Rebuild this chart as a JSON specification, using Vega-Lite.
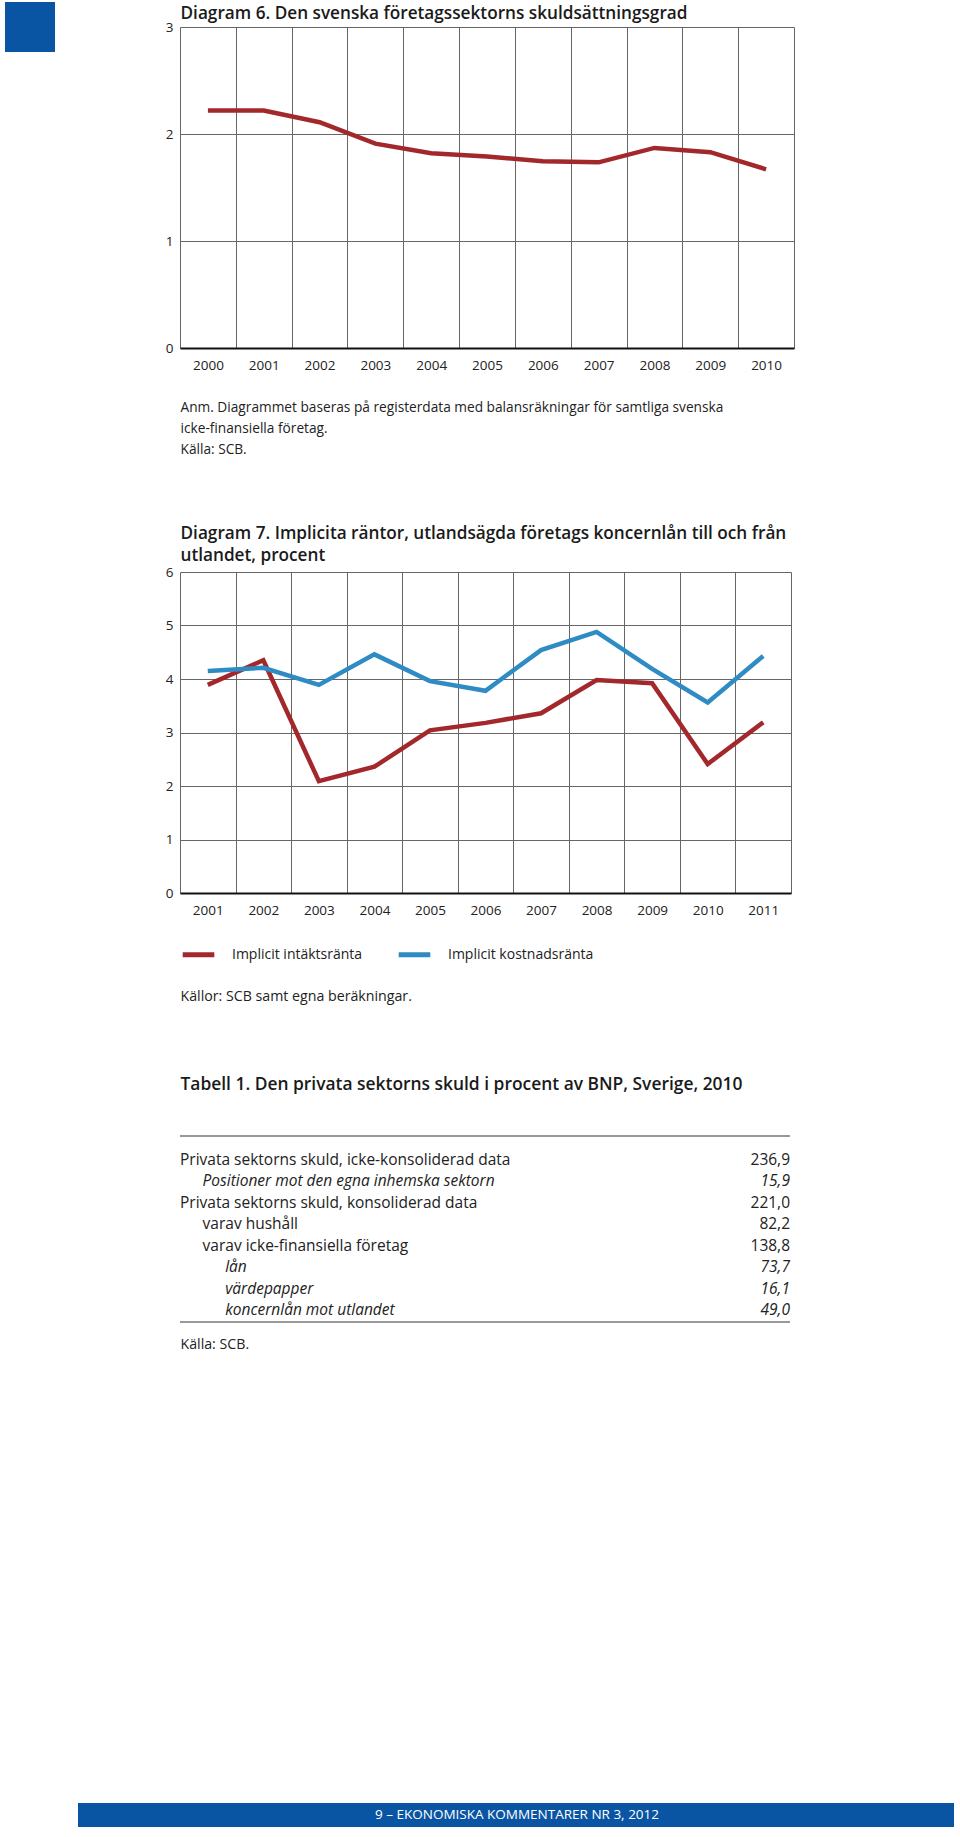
{
  "$schema": "https://vega.github.io/schema/vega-lite/v6.json",
  "padding": {"left": 5, "top": 2, "right": 6, "bottom": 10},
  "background": "white",
  "columns": 4,
  "bounds": "flush",
  "align": "each",
  "spacing": 0,
  "resolve": {"scale": {"color": "independent"}, "legend": {"color": "independent"}},
  "config": {
    "font": "Open Sans",
    "view": {"stroke": null},
    "locale": {"number": {"decimal": ",", "thousands": " ", "grouping": [3], "currency": ["", " kr"]}}
  },
  "concat": [
    {"width": 50, "height": 25, "view": {"fill": "#0a55a3", "stroke": null}, "data": {"values": []}, "mark": "text"},
    {"width": 1, "height": 1, "data": {"values": []}, "mark": "text"},
    {"width": 1, "height": 24, "data": {"values": [{"text": "Diagram 6. Den svenska företagssektorns skuldsättningsgrad"}]},
     "mark": {"type": "text", "align": "left", "baseline": "middle", "fontSize": 17.2, "fontWeight": 600, "color": "#1a1a1a"},
     "encoding": {"text": {"field": "text"}}},
    {"width": 1, "height": 1, "data": {"values": []}, "mark": "text"},

    {"width": 50, "height": 25, "view": {"fill": "#0a55a3", "stroke": null}, "data": {"values": []}, "mark": "text"},
    {"width": 1, "height": 1, "data": {"values": []}, "mark": "text"},
    {"width": 614, "height": 321,
     "data": {"values": [
       {"ar": "2000", "grad": 2.22}, {"ar": "2001", "grad": 2.22}, {"ar": "2002", "grad": 2.11},
       {"ar": "2003", "grad": 1.91}, {"ar": "2004", "grad": 1.82}, {"ar": "2005", "grad": 1.79},
       {"ar": "2006", "grad": 1.745}, {"ar": "2007", "grad": 1.735}, {"ar": "2008", "grad": 1.87},
       {"ar": "2009", "grad": 1.83}, {"ar": "2010", "grad": 1.67}
     ]},
     "mark": {"type": "line", "color": "#a3282c", "strokeWidth": 4.5},
     "encoding": {
       "x": {"field": "ar", "type": "ordinal", "bandPosition": 0.5,
             "scale": {"type": "band", "paddingInner": 0, "paddingOuter": 0},
             "axis": {"title": null, "tickBand": "extent", "grid": true, "gridColor": "#666", "gridWidth": 1,
                      "ticks": false, "domain": true, "domainColor": "#111", "domainWidth": 2,
                      "labelAngle": 0, "labelFontSize": 13.5, "labelColor": "#222", "labelPadding": 10}},
       "y": {"field": "grad", "type": "quantitative",
             "scale": {"domain": [0, 3], "nice": false},
             "axis": {"title": null, "values": [0, 1, 2, 3], "format": "d", "grid": true, "gridColor": "#666", "gridWidth": 1,
                      "domain": false, "ticks": false, "labelFontSize": 13.5, "labelColor": "#222", "labelPadding": 7}}
     }},
    {"width": 1, "height": 1, "data": {"values": []}, "mark": "text"},

    {"width": 73, "height": 1, "data": {"values": []}, "mark": "text"},
    {"width": 1, "height": 1, "data": {"values": []}, "mark": "text"},
    {"width": 1, "height": 50, "data": {"values": []}, "mark": "text"},
    {"width": 1, "height": 1, "data": {"values": []}, "mark": "text"},

    {"width": 1, "height": 1, "data": {"values": []}, "mark": "text"},
    {"width": 1, "height": 1, "data": {"values": []}, "mark": "text"},
    {"width": 1, "height": 62,
     "data": {"values": [
       {"rad": 1, "text": "Anm. Diagrammet baseras på registerdata med balansräkningar för samtliga svenska"},
       {"rad": 2, "text": "icke-finansiella företag."},
       {"rad": 3, "text": "Källa: SCB."}
     ]},
     "mark": {"type": "text", "align": "left", "baseline": "middle", "fontSize": 13.7, "color": "#222"},
     "encoding": {
       "y": {"field": "rad", "type": "ordinal", "scale": {"type": "band", "paddingInner": 0, "paddingOuter": 0}, "axis": null},
       "text": {"field": "text"}
     }},
    {"width": 1, "height": 1, "data": {"values": []}, "mark": "text"},

    {"width": 1, "height": 1, "data": {"values": []}, "mark": "text"},
    {"width": 1, "height": 1, "data": {"values": []}, "mark": "text"},
    {"width": 1, "height": 63, "data": {"values": []}, "mark": "text"},
    {"width": 1, "height": 1, "data": {"values": []}, "mark": "text"},

    {"width": 1, "height": 1, "data": {"values": []}, "mark": "text"},
    {"width": 1, "height": 1, "data": {"values": []}, "mark": "text"},
    {"width": 1, "height": 44,
     "data": {"values": [
       {"rad": 1, "text": "Diagram 7. Implicita räntor, utlandsägda företags koncernlån till och från"},
       {"rad": 2, "text": "utlandet, procent"}
     ]},
     "mark": {"type": "text", "align": "left", "baseline": "middle", "fontSize": 17.2, "fontWeight": 600, "color": "#1a1a1a"},
     "encoding": {
       "y": {"field": "rad", "type": "ordinal", "scale": {"type": "band", "paddingInner": 0, "paddingOuter": 0}, "axis": null},
       "text": {"field": "text"}
     }},
    {"width": 1, "height": 1, "data": {"values": []}, "mark": "text"},

    {"width": 1, "height": 1, "data": {"values": []}, "mark": "text"},
    {"width": 1, "height": 1, "data": {"values": []}, "mark": "text"},
    {"width": 1, "height": 5, "data": {"values": []}, "mark": "text"},
    {"width": 1, "height": 1, "data": {"values": []}, "mark": "text"},

    {"width": 1, "height": 1, "data": {"values": []}, "mark": "text"},
    {"width": 1, "height": 1, "data": {"values": []}, "mark": "text"},
    {"width": 611, "height": 321,
     "data": {"values": [
       {"ar": "2001", "serie": "Implicit intäktsränta", "ranta": 3.89},
       {"ar": "2002", "serie": "Implicit intäktsränta", "ranta": 4.35},
       {"ar": "2003", "serie": "Implicit intäktsränta", "ranta": 2.09},
       {"ar": "2004", "serie": "Implicit intäktsränta", "ranta": 2.36},
       {"ar": "2005", "serie": "Implicit intäktsränta", "ranta": 3.04},
       {"ar": "2006", "serie": "Implicit intäktsränta", "ranta": 3.18},
       {"ar": "2007", "serie": "Implicit intäktsränta", "ranta": 3.36},
       {"ar": "2008", "serie": "Implicit intäktsränta", "ranta": 3.98},
       {"ar": "2009", "serie": "Implicit intäktsränta", "ranta": 3.92},
       {"ar": "2010", "serie": "Implicit intäktsränta", "ranta": 2.41},
       {"ar": "2011", "serie": "Implicit intäktsränta", "ranta": 3.19},
       {"ar": "2001", "serie": "Implicit kostnadsränta", "ranta": 4.15},
       {"ar": "2002", "serie": "Implicit kostnadsränta", "ranta": 4.21},
       {"ar": "2003", "serie": "Implicit kostnadsränta", "ranta": 3.89},
       {"ar": "2004", "serie": "Implicit kostnadsränta", "ranta": 4.46},
       {"ar": "2005", "serie": "Implicit kostnadsränta", "ranta": 3.96},
       {"ar": "2006", "serie": "Implicit kostnadsränta", "ranta": 3.78},
       {"ar": "2007", "serie": "Implicit kostnadsränta", "ranta": 4.54},
       {"ar": "2008", "serie": "Implicit kostnadsränta", "ranta": 4.88},
       {"ar": "2009", "serie": "Implicit kostnadsränta", "ranta": 4.19},
       {"ar": "2010", "serie": "Implicit kostnadsränta", "ranta": 3.56},
       {"ar": "2011", "serie": "Implicit kostnadsränta", "ranta": 4.43}
     ]},
     "mark": {"type": "line", "strokeWidth": 4.5},
     "encoding": {
       "x": {"field": "ar", "type": "ordinal", "bandPosition": 0.5,
             "scale": {"type": "band", "paddingInner": 0, "paddingOuter": 0},
             "axis": {"title": null, "tickBand": "extent", "grid": true, "gridColor": "#666", "gridWidth": 1,
                      "ticks": false, "domain": true, "domainColor": "#111", "domainWidth": 2,
                      "labelAngle": 0, "labelFontSize": 13.5, "labelColor": "#222", "labelPadding": 10}},
       "y": {"field": "ranta", "type": "quantitative",
             "scale": {"domain": [0, 6], "nice": false},
             "axis": {"title": null, "values": [0, 1, 2, 3, 4, 5, 6], "format": "d", "grid": true, "gridColor": "#666", "gridWidth": 1,
                      "domain": false, "ticks": false, "labelFontSize": 13.5, "labelColor": "#222", "labelPadding": 7}},
       "color": {"field": "serie", "type": "nominal",
                 "scale": {"domain": ["Implicit intäktsränta", "Implicit kostnadsränta"], "range": ["#a3282c", "#2e8bc4"]},
                 "legend": {"orient": "bottom", "direction": "horizontal", "title": null, "symbolType": "stroke",
                            "symbolStrokeWidth": 5, "symbolSize": 1000, "labelFontSize": 14, "labelColor": "#222",
                            "labelOffset": 15, "columnPadding": 25, "offset": 19, "padding": 0}}
     }},
    {"width": 1, "height": 1, "data": {"values": []}, "mark": "text"},

    {"width": 1, "height": 1, "data": {"values": []}, "mark": "text"},
    {"width": 1, "height": 1, "data": {"values": []}, "mark": "text"},
    {"width": 1, "height": 94, "data": {"values": []}, "mark": "text"},
    {"width": 1, "height": 1, "data": {"values": []}, "mark": "text"},

    {"width": 1, "height": 1, "data": {"values": []}, "mark": "text"},
    {"width": 1, "height": 1, "data": {"values": []}, "mark": "text"},
    {"width": 1, "height": 20, "data": {"values": [{"text": "Källor: SCB samt egna beräkningar."}]},
     "mark": {"type": "text", "align": "left", "baseline": "middle", "fontSize": 14.2, "color": "#222"},
     "encoding": {"text": {"field": "text"}}},
    {"width": 1, "height": 1, "data": {"values": []}, "mark": "text"},

    {"width": 1, "height": 1, "data": {"values": []}, "mark": "text"},
    {"width": 1, "height": 1, "data": {"values": []}, "mark": "text"},
    {"width": 1, "height": 66, "data": {"values": []}, "mark": "text"},
    {"width": 1, "height": 1, "data": {"values": []}, "mark": "text"},

    {"width": 1, "height": 1, "data": {"values": []}, "mark": "text"},
    {"width": 1, "height": 1, "data": {"values": []}, "mark": "text"},
    {"width": 1, "height": 24, "data": {"values": [{"text": "Tabell 1. Den privata sektorns skuld i procent av BNP, Sverige, 2010"}]},
     "mark": {"type": "text", "align": "left", "baseline": "middle", "fontSize": 17.4, "fontWeight": 600, "color": "#1a1a1a"},
     "encoding": {"text": {"field": "text"}}},
    {"width": 1, "height": 1, "data": {"values": []}, "mark": "text"},

    {"width": 1, "height": 1, "data": {"values": []}, "mark": "text"},
    {"width": 1, "height": 1, "data": {"values": []}, "mark": "text"},
    {"width": 1, "height": 39, "data": {"values": []}, "mark": "text"},
    {"width": 1, "height": 1, "data": {"values": []}, "mark": "text"},

    {"width": 1, "height": 1, "data": {"values": []}, "mark": "text"},
    {"width": 1, "height": 1, "data": {"values": []}, "mark": "text"},
    {"width": 610, "height": 186,
     "data": {"values": [
       {"rad": 1, "niva": 0, "post": "Privata sektorns skuld, icke-konsoliderad data", "procent": 236.9},
       {"rad": 2, "niva": 1, "post": "Positioner mot den egna inhemska sektorn", "procent": 15.9},
       {"rad": 3, "niva": 0, "post": "Privata sektorns skuld, konsoliderad data", "procent": 221.0},
       {"rad": 4, "niva": 1, "post": "varav hushåll", "procent": 82.2},
       {"rad": 5, "niva": 1, "post": "varav icke-finansiella företag", "procent": 138.8},
       {"rad": 6, "niva": 2, "post": "lån", "procent": 73.7},
       {"rad": 7, "niva": 2, "post": "värdepapper", "procent": 16.1},
       {"rad": 8, "niva": 2, "post": "koncernlån mot utlandet", "procent": 49.0}
     ]},
     "layer": [
       {"transform": [{"aggregate": [{"op": "count", "as": "n"}]}],
        "mark": {"type": "rule", "color": "#777", "strokeWidth": 1.5},
        "encoding": {"y": {"value": 0}}},
       {"transform": [{"aggregate": [{"op": "count", "as": "n"}]}],
        "mark": {"type": "rule", "color": "#777", "strokeWidth": 1.5},
        "encoding": {"y": {"value": "height"}}},
       {"transform": [{"filter": "indexof([2, 6, 7, 8], datum.rad) < 0"}],
        "mark": {"type": "text", "align": "left", "baseline": "middle", "fontSize": 15.5, "color": "#222"},
        "encoding": {
          "x": {"field": "niva", "type": "quantitative", "scale": {"domain": [0, 27], "nice": false, "zero": true}, "axis": null},
          "y": {"field": "rad", "type": "ordinal", "scale": {"type": "band", "paddingInner": 0, "paddingOuter": 0.34, "align": 0.91}, "axis": null},
          "text": {"field": "post"}
        }},
       {"transform": [{"filter": "indexof([2, 6, 7, 8], datum.rad) >= 0"}],
        "mark": {"type": "text", "align": "left", "baseline": "middle", "fontSize": 15.5, "fontStyle": "italic", "color": "#222"},
        "encoding": {
          "x": {"field": "niva", "type": "quantitative", "scale": {"domain": [0, 27], "nice": false, "zero": true}, "axis": null},
          "y": {"field": "rad", "type": "ordinal", "scale": {"type": "band", "paddingInner": 0, "paddingOuter": 0.34, "align": 0.91}, "axis": null},
          "text": {"field": "post"}
        }},
       {"transform": [{"filter": "indexof([2, 6, 7, 8], datum.rad) < 0"}],
        "mark": {"type": "text", "align": "right", "baseline": "middle", "fontSize": 15.5, "color": "#222"},
        "encoding": {
          "x": {"value": "width"},
          "y": {"field": "rad", "type": "ordinal", "axis": null},
          "text": {"field": "procent", "type": "quantitative", "format": ".1f"}
        }},
       {"transform": [{"filter": "indexof([2, 6, 7, 8], datum.rad) >= 0"}],
        "mark": {"type": "text", "align": "right", "baseline": "middle", "fontSize": 15.5, "fontStyle": "italic", "color": "#222"},
        "encoding": {
          "x": {"value": "width"},
          "y": {"field": "rad", "type": "ordinal", "axis": null},
          "text": {"field": "procent", "type": "quantitative", "format": ".1f"}
        }}
     ]},
    {"width": 1, "height": 1, "data": {"values": []}, "mark": "text"},

    {"width": 1, "height": 1, "data": {"values": []}, "mark": "text"},
    {"width": 1, "height": 1, "data": {"values": []}, "mark": "text"},
    {"width": 1, "height": 13, "data": {"values": []}, "mark": "text"},
    {"width": 1, "height": 1, "data": {"values": []}, "mark": "text"},

    {"width": 1, "height": 1, "data": {"values": []}, "mark": "text"},
    {"width": 1, "height": 1, "data": {"values": []}, "mark": "text"},
    {"width": 1, "height": 20, "data": {"values": [{"text": "Källa: SCB."}]},
     "mark": {"type": "text", "align": "left", "baseline": "middle", "fontSize": 14.2, "color": "#222"},
     "encoding": {"text": {"field": "text"}}},
    {"width": 1, "height": 1, "data": {"values": []}, "mark": "text"},

    {"width": 1, "height": 1, "data": {"values": []}, "mark": "text"},
    {"width": 1, "height": 1, "data": {"values": []}, "mark": "text"},
    {"width": 1, "height": 448, "data": {"values": []}, "mark": "text"},
    {"width": 1, "height": 1, "data": {"values": []}, "mark": "text"},

    {"width": 1, "height": 1, "data": {"values": []}, "mark": "text"},
    {"width": 102, "height": 24, "view": {"fill": "#0a55a3", "stroke": null}, "data": {"values": []}, "mark": "text"},
    {"width": 674, "height": 24, "view": {"fill": "#0a55a3", "stroke": null},
     "data": {"values": [{"text": "9 – EKONOMISKA KOMMENTARER NR 3, 2012"}]},
     "mark": {"type": "text", "align": "center", "baseline": "middle", "fontSize": 13.5, "color": "white"},
     "encoding": {"text": {"field": "text"}}},
    {"width": 100, "height": 24, "view": {"fill": "#0a55a3", "stroke": null}, "data": {"values": []}, "mark": "text"}
  ]
}
